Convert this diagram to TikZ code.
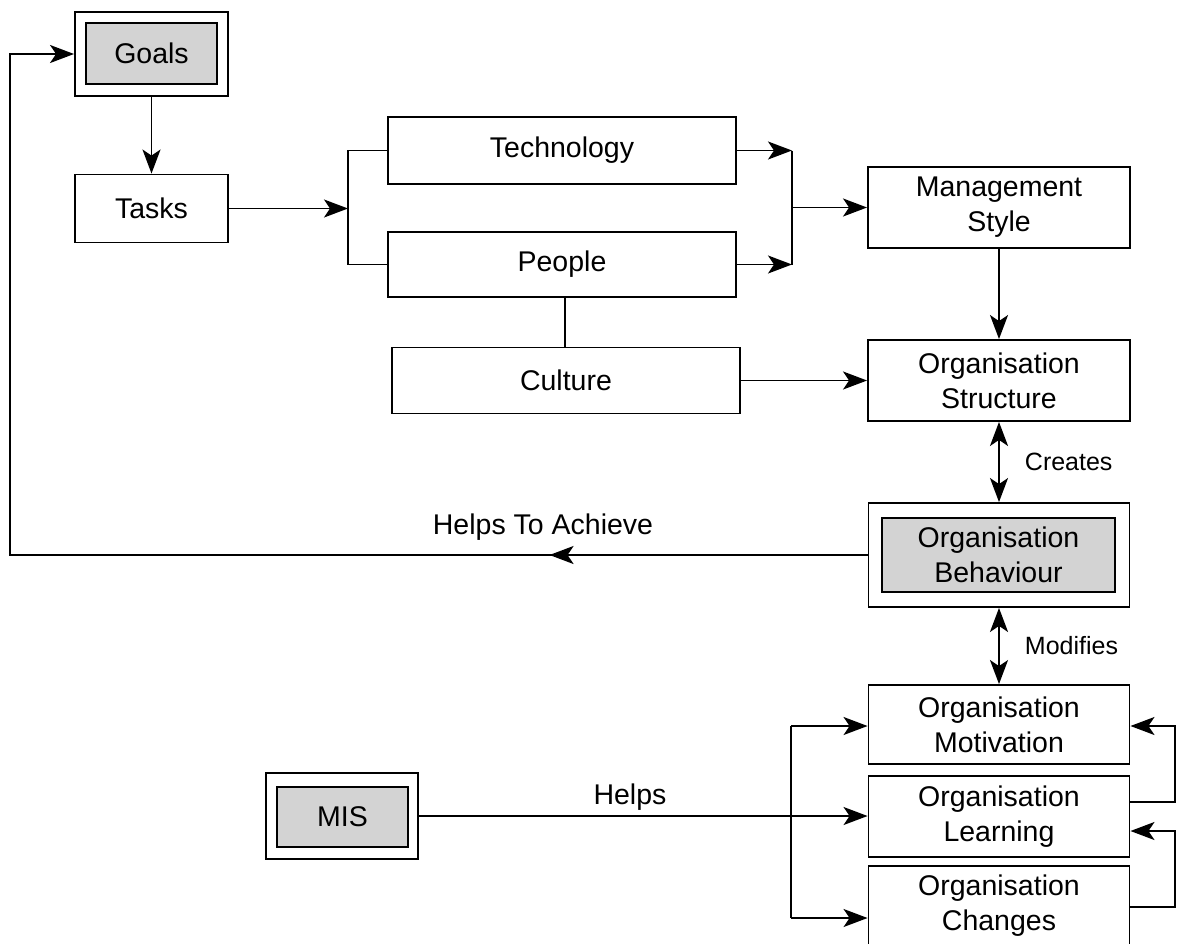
\documentclass[tikz,border=0pt]{standalone}
\usepackage{fontspec}
\setmainfont{Liberation Sans}
\usetikzlibrary{arrows.meta,decorations.markings}
\definecolor{boxgray}{RGB}{211,211,211}
\newcommand\mainfs{\fontsize{28.5}{35}\selectfont}
\newcommand\smallfs{\fontsize{25}{30}\selectfont}
\tikzset{
  bx/.style={draw, line width=1.9pt, inner sep=0pt, align=center, font=\mainfs},
  gbx/.style={bx, fill=boxgray},
  ln/.style={line width=1.9pt},
  tip/.tip={Stealth[length=24pt,width=18pt,inset=6pt]},
  con/.style={ln, -tip},
  dcon/.style={ln, tip-tip},
  lbl/.style={font=\mainfs, inner sep=0pt},
  slbl/.style={font=\smallfs, inner sep=0pt, anchor=west},
}
\begin{document}
\begin{tikzpicture}[x=1pt,y=-1pt]
\useasboundingbox (0,0) rectangle (1178,943);
% nodes
\node[bx, minimum width=153, minimum height=84] (goals) at (151.5,54) {};
\node[gbx, minimum width=131, minimum height=61] (goalsin) at (151.5,53.5) {Goals};
\node[bx, minimum width=153, minimum height=68] (tasks) at (151.5,208.5) {Tasks};
\node[bx, minimum width=348, minimum height=67] (tech) at (562,150.5) {Technology};
\node[bx, minimum width=348, minimum height=65] (people) at (562,264.5) {People};
\node[bx, minimum width=348, minimum height=66] (culture) at (566,380.5) {Culture};
\node[bx, minimum width=262, minimum height=81] (mgmt) at (999,207.5) {Management\\Style};
\node[bx, minimum width=262, minimum height=81] (struct) at (999,380.5) {Organisation\\Structure};
\node[bx, minimum width=261, minimum height=104] (beh) at (999,555) {};
\node[gbx, minimum width=233, minimum height=74] (behin) at (998.5,555) {Organisation\\Behaviour};
\node[bx, minimum width=261, minimum height=79] (motiv) at (999,724.5) {Organisation\\Motivation};
\node[bx, minimum width=261, minimum height=81] (learn) at (999,816.5) {Organisation\\Learning};
\node[bx, minimum width=261, minimum height=79] (change) at (999,905.5) {Organisation\\Changes};
\node[bx, minimum width=152, minimum height=86] (mis) at (342,816) {};
\node[gbx, minimum width=131, minimum height=60] (misin) at (342.5,817) {MIS};
% coordinates
\coordinate (bl) at (348,208.5);
\coordinate (br) at (792,207.5);
\coordinate (cl) at (10,300);
\coordinate (lb) at (791,726);
\coordinate (lb2) at (791,918);
\coordinate (r1) at (1175,802);
\coordinate (r1t) at (1175,726);
\coordinate (r2) at (1175,907);
\coordinate (r2t) at (1175,831);
% connectors
\draw[con] (goals.south) -- (tasks.north);
\draw[con] (tasks.east) -- (bl);
\draw[ln] (tech.west) -| (bl) |- (people.west);
\draw[con] (tech.east) -- (tech.east -| br);
\draw[con] (people.east) -- (people.east -| br);
\draw[ln] (tech.east -| br) -- (people.east -| br);
\draw[con] (br) -- (mgmt.west);
\draw[ln] (people.south -| culture.north) ++(-1,0) coordinate (pc) -- (pc |- culture.north);
\draw[con] (culture.east) -- (struct.west);
\draw[con] (mgmt.south) -- (struct.north);
\draw[dcon] (struct.south) -- node[slbl, xshift=25pt] {Creates} (beh.north);
\draw[dcon] (beh.south) -- node[slbl, xshift=25pt] {Modifies} (motiv.north);
\draw[con, postaction={decorate, decoration={markings, mark=at position 318pt with {\arrow{tip}}}}]
  (beh.west) -| (cl) |- (goals.west);
\node[lbl] (achieve) at (543,527) {Helps To Achieve};
\draw[con] (mis.east) -- (mis.east -| learn.west);
\node[lbl] (helps) at (630,797) {Helps};
\draw[ln] (lb) -- (lb2);
\draw[con] (lb) -- (lb -| motiv.west);
\draw[con] (lb2) -- (lb2 -| change.west);
\draw[con] (r1 -| learn.east) -- (r1) -- (r1t) -- (r1t -| motiv.east);
\draw[con] (r2 -| change.east) -- (r2) -- (r2t) -- (r2t -| learn.east);
\end{tikzpicture}
\end{document}
